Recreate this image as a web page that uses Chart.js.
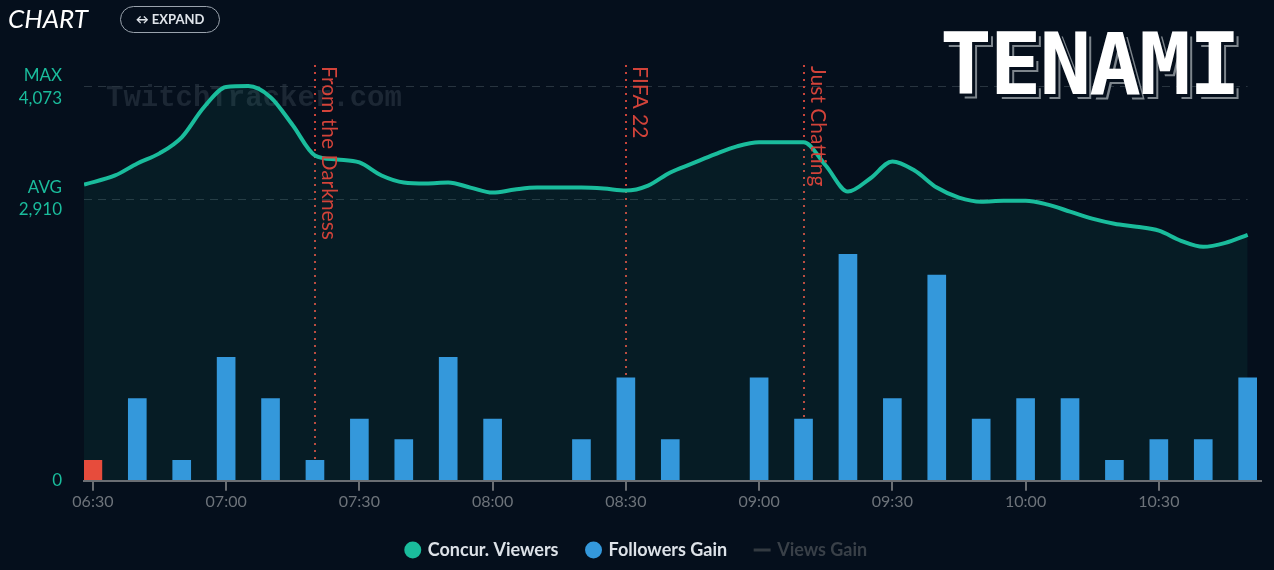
<!DOCTYPE html>
<html>
<head>
<meta charset="utf-8">
<script src="https://cdn.jsdelivr.net/npm/chart.js@4.4.0/dist/chart.umd.min.js"></script>
<style>
  body { margin:0; background:#050f1c; overflow:hidden; font-family:Lato, sans-serif; }
  #wrap { position:relative; width:1274px; height:572px; }
  #title { position:absolute; left:8px; top:2px; color:#fff; font-style:italic; font-size:26px; }
  #expand { position:absolute; left:120px; top:6px; width:98px; height:25px; border:1.5px solid #9aa3ad;
            border-radius:14px; color:#dfe4ea; font-weight:bold; font-size:13px; line-height:25px; text-align:center; }
  #logo { position:absolute; left:940px; top:14px; color:#fff; font-family:"DejaVu Sans Mono"; font-weight:bold;
          font-size:86px; letter-spacing:-2px; text-shadow:3px 3px 0 #050f1c, 5px 5px 0 #7d858c; }
</style>
</head>
<body>
<div id="wrap">
  <canvas id="myChart"></canvas>
  <div id="title">CHART</div>
  <div id="expand">&#8596; EXPAND</div>
  <div id="logo">TENAMI</div>
</div>

<script>
// concurrent viewers (roughly every 5 minutes)
const viewerTimes = ['06:28','06:35','06:40','06:45','06:50','06:55','07:00','07:05','07:10','07:15','07:20','07:25',
  '07:30','07:35','07:40','07:45','07:50','07:55','08:00','08:05','08:10','08:15','08:20','08:25','08:30','08:35',
  '08:40','08:45','08:50','08:55','09:00','09:05','09:10','09:15','09:20','09:25','09:30','09:35','09:40','09:45',
  '09:50','09:55','10:00','10:05','10:10','10:15','10:20','10:25','10:30','10:35','10:40','10:45','10:50'];
const viewers = [3057,3151,3275,3379,3545,3855,4063,4073,3959,3669,3358,3316,
  3285,3151,3078,3068,3078,3026,2974,3006,3026,3026,3026,3016,2995,3047,
  3182,3275,3368,3451,3493,3493,3493,3254,2985,3120,3296,3202,3026,2923,
  2881,2891,2891,2850,2778,2705,2653,2622,2581,2477,2415,2456,2539];

// followers gained per 10 minutes
const followerTimes = ['06:30','06:40','06:50','07:00','07:10','07:20','07:30','07:40','07:50','08:00','08:10','08:20',
  '08:30','08:40','08:50','09:00','09:10','09:20','09:30','09:40','09:50','10:00','10:10','10:20','10:30','10:40','10:50'];
const followerGain = [-1,4,1,6,4,1,3,2,6,3,0,2,5,2,0,5,3,11,4,10,3,4,4,1,2,2,5];

const tickTimes = ['06:30','07:00','07:30','08:00','08:30','09:00','09:30','10:00','10:30'];

const gameTimes = ['07:20','08:30','09:10'];
const gameNames = ['From the Darkness','FIFA 22','Just Chatting'];

const viewerMax = 4073;
const viewerAvg = 2910;

function toMin(t) {
  const p = t.split(':');
  return (+p[0]) * 60 + (+p[1]);
}
function fmt(m) {
  const h = Math.floor(m / 60), mm = m % 60;
  return String(h).padStart(2, '0') + ':' + String(mm).padStart(2, '0');
}

const teal = '#1abc9c';

const overlay = {
  id: 'overlay',
  afterLayout(chart) {
    // centre the legend on the whole canvas, not the padded area
    const l = chart.legend;
    l.left = 0; l.right = chart.width; l.width = chart.width;
  },
  beforeDatasetsDraw(chart) {
    const { ctx, chartArea: a, scales } = chart;
    const x = scales.x, yV = scales.yV;
    ctx.save();
    // watermark
    ctx.font = 'bold 29px "Liberation Mono"';
    ctx.fillStyle = 'rgba(120,135,150,0.2)';
    ctx.textBaseline = 'alphabetic';
    ctx.textAlign = 'left';
    ctx.fillText('TwitchTracker.com', 106, 106);
    // max / avg
    ctx.setLineDash([8, 6]);
    ctx.strokeStyle = '#28343f';
    ctx.lineWidth = 1;
    [viewerMax, viewerAvg].forEach(v => {
      const y = Math.round(yV.getPixelForValue(v)) + 0.5;
      ctx.beginPath();
      ctx.moveTo(a.left, y);
      ctx.lineTo(x.getPixelForValue(toMin('10:50')), y);
      ctx.stroke();
    });
    // game change lines
    ctx.setLineDash([2, 5]);
    ctx.strokeStyle = '#c8443a';
    ctx.lineWidth = 2;
    gameTimes.forEach(t => {
      const px = Math.round(x.getPixelForValue(toMin(t)));
      ctx.beginPath();
      ctx.moveTo(px, a.top);
      ctx.lineTo(px, a.bottom);
      ctx.stroke();
    });
    ctx.restore();
  },
  afterDatasetsDraw(chart) {
    const { ctx, chartArea: a, scales } = chart;
    const x = scales.x, yV = scales.yV;
    ctx.save();
    ctx.font = '21px Lato';
    ctx.fillStyle = '#d2433a';
    ctx.textAlign = 'left';
    ctx.textBaseline = 'bottom';
    gameTimes.forEach((t, i) => {
      const px = Math.round(x.getPixelForValue(toMin(t)));
      ctx.save();
      ctx.translate(px + 3, a.top + 1);
      ctx.rotate(Math.PI / 2);
      ctx.fillText(gameNames[i], 0, 0);
      ctx.restore();
    });
    // left labels
    ctx.fillStyle = teal;
    ctx.textAlign = 'right';
    ctx.textBaseline = 'middle';
    ctx.font = '17px Lato';
    const yMax = yV.getPixelForValue(viewerMax);
    const yAvg = yV.getPixelForValue(viewerAvg);
    ctx.fillText('MAX', 62, yMax - 11);
    ctx.fillText(viewerMax.toLocaleString('en-US'), 62, yMax + 12);
    ctx.fillText('AVG', 62, yAvg - 11);
    ctx.fillText(viewerAvg.toLocaleString('en-US'), 62, yAvg + 11);
    ctx.fillText('0', 62, a.bottom);
    ctx.restore();
  }
};

new Chart('myChart', {
  type: 'bar',
  data: {
    datasets: [{
      type: 'line',
      label: 'Concur. Viewers',
      yAxisID: 'yV',
      data: viewerTimes.map((t, i) => ({ x: toMin(t), y: viewers[i] })),
      borderColor: teal,
      borderWidth: 4,
      pointRadius: 0,
      cubicInterpolationMode: 'monotone',
      fill: 'origin',
      backgroundColor: 'rgba(26,188,156,0.08)',
      order: 2
    }, {
      type: 'bar',
      label: 'Followers Gain',
      yAxisID: 'yF',
      data: followerTimes.map((t, i) => ({ x: toMin(t), y: Math.abs(followerGain[i]) })),
      backgroundColor: followerGain.map(v => v < 0 ? '#e74c3c' : '#3498db'),
      barThickness: 18,
      order: 1
    }]
  },
  options: {
    responsive: true,
    maintainAspectRatio: false,
    animation: false,
    layout: { padding: { left: 84, right: 13, top: 65, bottom: 3 } },
    scales: {
      x: {
        type: 'linear',
        offset: false,
        min: toMin('06:28'),
        max: toMin('10:53'),
        afterBuildTicks: s => { s.ticks = tickTimes.map(t => ({ value: toMin(t) })); },
        grid: { display: true, offset: false, drawOnChartArea: false, drawTicks: true, tickLength: 10, color: '#6a6e73', lineWidth: 2 },
        border: { display: true, color: '#6a6e73', width: 2, z: 1 },
        ticks: { color: '#6d737a', font: { family: 'Lato', size: 16 }, padding: 1, maxRotation: 0, callback: v => fmt(v) }
      },
      yV: { display: false, min: 0, max: 4291 },
      yF: { display: false, min: 0, max: 20.2 }
    },
    plugins: {
      tooltip: { enabled: false },
      legend: {
        position: 'bottom',
        labels: {
          usePointStyle: true,
          boxHeight: 12,
          boxWidth: 12,
          padding: 29,
          color: '#dde2e8',
          font: { family: 'Lato', size: 18, weight: 'bold' },
          generateLabels: () => [
            { text: 'Concur. Viewers', fillStyle: teal, strokeStyle: teal, lineWidth: 0, pointStyle: 'circle', fontColor: '#dde2e8' },
            { text: 'Followers Gain', fillStyle: '#3498db', strokeStyle: '#3498db', lineWidth: 0, pointStyle: 'circle', fontColor: '#dde2e8' },
            { text: 'Views Gain', fillStyle: '#333a41', strokeStyle: '#333a41', lineWidth: 3, pointStyle: 'line', fontColor: '#394048' }
          ]
        }
      }
    }
  },
  plugins: [overlay]
});
</script>
</body>
</html>
